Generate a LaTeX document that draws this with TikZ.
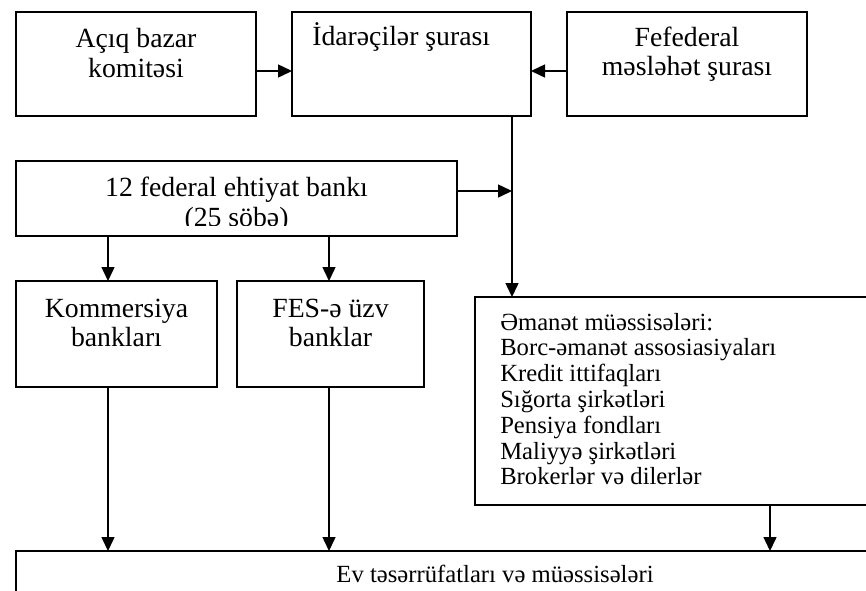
\documentclass[tikz,border=0pt]{standalone}
\usepackage{fontspec}
\setmainfont{Liberation Serif}
\usetikzlibrary{arrows.meta}
\begin{document}
\begin{tikzpicture}[x=0.75pt,y=-0.75pt,
  box/.style={draw,line width=1.1pt,inner sep=0pt,outer sep=0pt,rectangle},
  arr/.style={line width=1.1pt,-{Triangle[length=10.5pt,width=9.75pt]}},
  big/.style={font=\fontsize{20.8}{22.5}\selectfont,inner sep=0pt,anchor=base},
  small/.style={font=\fontsize{18.5}{19.4}\selectfont,inner sep=0pt,anchor=base}]
\useasboundingbox (0,0) rectangle (866,590);
\clip (0,0) rectangle (866,590);
% boxes
\node[box,minimum width=180pt,minimum height=78pt] (A) at (136,64) {};
\node[box,minimum width=179.25pt,minimum height=78pt] (B) at (411.5,64) {};
\node[box,minimum width=180pt,minimum height=78pt] (C) at (687,64) {};
\node[box,minimum width=330.75pt,minimum height=56.25pt] (F) at (236.5,198.5) {};
\node[box,minimum width=150.75pt,minimum height=79.5pt] (K) at (116.5,334) {};
\node[box,minimum width=140.25pt,minimum height=79.5pt] (S) at (330.5,334) {};
\node[box,minimum width=393.75pt,minimum height=156pt] (E) at (737.5,401) {};
\node[box,minimum width=718.5pt,minimum height=74.25pt] (H) at (495,600.5) {};
% texts
\node[big] (a1) at (136,47) {Açıq bazar};
\node[big] (a2) at (136,77) {komitəsi};
\node[big,anchor=base west] (b1) at (312,45) {İdarəçilər şurası};
\node[big] (c1) at (687,46) {Fefederal};
\node[big] (c2) at (687,75) {məsləhət şurası};
\node[big] (f1) at (236.5,196) {12 federal ehtiyat bankı};
\begin{scope}
\clip (F.north west) rectangle ([yshift=8.25pt]F.south east);
\node[big] (f2) at (236.5,226) {(25 söbə)};
\end{scope}
\node[big] (k1) at (116.5,317) {Kommersiya};
\node[big] (k2) at (116.5,346) {bankları};
\node[big] (s1) at (330.5,317) {FES-ə üzv};
\node[big] (s2) at (330.5,346) {banklar};
\node[small,anchor=base west] (e0) at (500,330) {Əmanət müəssisələri:};
\node[small,anchor=base west] (e1) at (500,355.8) {Borc-əmanət assosiasiyaları};
\node[small,anchor=base west] (e2) at (500,381.6) {Kredit ittifaqları};
\node[small,anchor=base west] (e3) at (500,407.4) {Sığorta şirkətləri};
\node[small,anchor=base west] (e4) at (500,433.2) {Pensiya fondları};
\node[small,anchor=base west] (e5) at (500,459) {Maliyyə şirkətləri};
\node[small,anchor=base west] (e6) at (500,484.8) {Brokerlər və dilerlər};
\node[small] (h1) at (495,582) {Ev təsərrüfatları və müəssisələri};
% connector helpers
\coordinate (j) at (512,191);
\coordinate (k) at (108,0);
\coordinate (s) at (329,0);
\coordinate (e) at (770,0);
\coordinate (ya) at (0,71);
% connectors
\draw[arr] (A.east |- ya) -- (B.west |- ya);
\draw[arr] (C.west |- ya) -- (B.east |- ya);
\draw[arr] (B.south -| j) -- (E.north -| j);
\draw[arr] (F.east |- j) -- (j);
\draw[arr] (F.south -| k) -- (K.north -| k);
\draw[arr] (F.south -| s) -- (S.north -| s);
\draw[arr] (K.south -| k) -- (H.north -| k);
\draw[arr] (S.south -| s) -- (H.north -| s);
\draw[arr] (E.south -| e) -- (H.north -| e);
\end{tikzpicture}
\end{document}
